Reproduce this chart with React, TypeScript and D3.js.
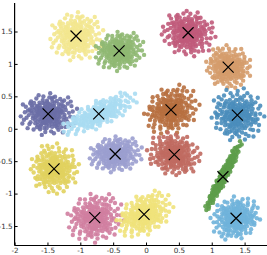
import React, { useRef, useEffect } from 'react';
import * as d3 from 'd3';

// cluster centres (the X marks)
const centerX = [-1.065, -0.41, -1.49, -0.72, 0.64, 1.25, 0.38, 1.39, -1.4, -0.47, -0.78, 0.43, 1.17, -0.03, 1.37];
const centerY = [1.43, 1.2, 0.23, 0.23, 1.48, 0.95, 0.29, 0.21, -0.62, -0.39, -1.37, -0.4, -0.74, -1.32, -1.38];
// spread along / across the main direction and the angle of that direction (deg)
const spreadA = [0.15, 0.14, 0.16, 0.23, 0.15, 0.12, 0.16, 0.15, 0.14, 0.15, 0.16, 0.15, 0.22, 0.17, 0.14];
const spreadB = [0.15, 0.12, 0.13, 0.08, 0.14, 0.14, 0.14, 0.16, 0.15, 0.11, 0.15, 0.13, 0.028, 0.12, 0.13];
const angles = [0, 10, 0, 25, -20, 80, 30, 100, 70, 5, 15, 160, 63, 30, 200];
const colors = ['#f3e78f', '#8fb872', '#6a6ea6', '#a9dcf2', '#c05a7a', '#d59c6c', '#b76f3f', '#4a8dbb',
  '#e1d15e', '#9b9ecf', '#d07ea0', '#c06a60', '#5d9d4a', '#f0e27a', '#6fb3da'];

// hand-typed unit scatter shared by the clusters
const offsets = [
  [0.12, -0.35], [-0.84, 0.41], [1.05, 0.22], [-0.31, -1.12], [0.56, 0.93], [-1.42, -0.27], [0.27, 0.08], [0.91, -0.66], [-0.63, -0.52], [-0.08, 1.37],
  [1.68, 0.45], [-0.45, 0.18], [0.38, -1.54], [-1.1, 0.95], [0.71, 0.37], [-0.19, -0.74], [1.23, -1.08], [-0.97, -1.31], [0.04, 0.61], [-1.76, 0.52],
  [0.49, -0.21], [-0.28, 0.88], [1.41, 0.96], [-0.66, -0.09], [0.18, -0.97], [-1.25, -0.71], [0.83, 1.52], [-0.51, 1.63], [2.1, -0.33], [-0.03, -0.18],
  [0.64, -1.21], [-1.58, 0.11], [0.31, 0.44], [-0.88, 0.67], [1.12, -0.41], [-0.36, -1.68], [0.95, 0.71], [-2.05, -0.46], [0.22, 1.09], [-0.72, -0.88],
  [1.56, -0.12], [-0.14, 0.33], [0.43, -0.63], [-1.03, 0.29], [0.67, 0.12], [-0.41, -0.36], [1.87, 1.21], [-1.34, 1.28], [0.09, -1.42], [-0.57, 0.52],
  [0.78, -0.85], [-0.23, -0.55], [1.31, 0.58], [-0.92, -0.18], [0.35, 1.78], [-1.67, -0.99], [0.58, -0.04], [-0.06, 0.97], [1.02, 1.14], [-0.79, 1.05],
  [2.34, 0.27], [-0.47, -1.02], [0.14, 0.21], [-1.19, -0.42], [0.86, -1.62], [-0.33, 1.21], [1.47, -0.73], [-0.61, 0.24], [0.26, -0.31], [-1.48, 0.78],
  [0.52, 0.66], [-0.16, -1.29], [1.18, 0.04], [-0.85, -0.63], [0.07, -0.6], [-2.21, 0.19], [0.99, -0.27], [-0.38, 0.71], [0.61, 1.31], [-1.06, -1.58],
  [1.74, -0.58], [-0.25, 0.05], [0.41, 0.98], [-0.69, -1.39], [0.17, -0.14], [-1.31, 0.47], [0.74, -0.49], [-0.11, 1.55], [1.35, 1.42], [-0.95, 0.14],
  [0.29, -2.08], [-1.84, -0.15], [0.88, 0.28], [-0.54, -0.77], [1.61, 0.81], [-0.02, -0.92], [0.47, 0.15], [-1.15, 0.62], [1.09, -0.91], [-0.31, 0.42],
  [2.6, -1.05], [-2.4, 1.1], [0.2, 2.45], [-0.6, -2.5], [1.9, 1.95], [-1.95, -1.7], [2.75, 0.6], [-0.9, 2.2], [1.4, -2.2], [-2.6, -0.3],
  [0.33, -0.44], [-0.44, -0.22], [0.15, 0.52], [-0.2, 0.27], [0.58, -0.34], [-0.73, 0.36], [0.02, 0.11], [0.44, 0.31], [-0.12, -0.41], [0.69, -0.16],
  [-0.58, -0.31], [0.24, -0.78], [-0.37, 0.59], [0.81, 0.54], [-0.91, 0.04], [0.11, -0.27], [-0.05, 0.76], [0.53, -0.92], [-1.0, -0.94], [1.28, 0.31],
  [1.52, 1.58], [-1.62, 1.47], [2.05, -1.3], [-1.38, -1.86], [0.66, 2.02], [-0.27, -2.15], [2.22, 0.92], [-2.12, 0.84], [0.98, -1.9], [-1.12, 1.82],
  [1.83, -0.95], [-1.78, -1.22], [0.12, 1.95], [-0.76, -1.83], [2.45, -0.44], [-2.3, -0.71], [1.15, 1.76], [-0.45, 2.05], [0.55, -2.3], [-1.55, 1.0],
  [0.95, -1.32], [-1.22, -1.12], [1.38, 0.18], [-0.48, 1.28], [0.36, -1.18], [-1.45, -0.52], [1.22, 1.02], [-0.82, 1.32], [0.72, -1.45], [-1.6, 0.35],
  [0.05, 1.2], [-0.15, -1.05], [1.52, -0.38], [-1.28, 0.05], [0.42, 1.45], [-0.62, -1.22], [1.08, 0.55], [-0.98, 0.85], [0.85, -1.05], [-1.08, -0.22],
  [0.25, 0.75], [-0.32, -0.92], [0.92, 0.02], [-0.7, 0.7], [0.62, -0.62], [-0.55, 0.02], [0.18, -0.48], [-0.1, 0.48], [0.38, -0.08], [-0.28, -0.12],
  [1.98, 0.12], [-1.92, 0.38], [0.45, 1.92], [-0.15, -1.72], [1.65, -1.55], [-1.7, 1.25], [2.15, 1.45], [-2.45, -1.15], [1.25, -1.58], [-0.8, -1.65],
];

const xTicks = [-2, -1.5, -1, -0.5, 0, 0.5, 1, 1.5];
const yTicks = [-1.5, -1, -0.5, 0, 0.5, 1, 1.5];

const width = 267;
const height = 255;

const App = () => {
  const inputEl = useRef<HTMLDivElement>(null);

  useEffect(() => {
    d3.select(inputEl.current).select('svg').remove();

    var x = d3.scaleLinear().domain([-2, 1.5]).range([14.6, 244.6]);
    var y = d3.scaleLinear().domain([-1.5, 1.5]).range([226, 31.5]);

    var svg = d3.select(inputEl.current).append('svg')
      .attr('width', width).attr('height', height)
      .style('display', 'block');

    var pts = svg.append('g');
    centerX.forEach((cx, i) => {
      var a = angles[i] * Math.PI / 180;
      var data = offsets.map(([u, v]) => {
        var du = u * spreadA[i], dv = v * spreadB[i];
        return [cx + du * Math.cos(a) - dv * Math.sin(a), centerY[i] + du * Math.sin(a) + dv * Math.cos(a)];
      });
      pts.append('g').selectAll('circle')
        .data(data)
        .enter().append('circle')
        .attr('cx', d => x(d[0]))
        .attr('cy', d => y(d[1]))
        .attr('r', 2.2)
        .attr('fill', colors[i])
        .attr('fill-opacity', 0.9);
    });

    var crosses = svg.append('g');
    centerX.forEach((cx, i) => {
      var px = x(cx), py = y(centerY[i]), s = 5.5;
      crosses.append('path')
        .attr('d', `M${px - s},${py - s}L${px + s},${py + s}M${px - s},${py + s}L${px + s},${py - s}`)
        .attr('stroke', '#000')
        .attr('stroke-width', 1.2)
        .attr('fill', 'none');
    });

    var xAxis = d3.axisBottom(x).tickValues(xTicks).tickSize(-3).tickSizeOuter(0).tickPadding(2).tickFormat(d => String(d));
    var yAxis = d3.axisLeft(y).tickValues(yTicks).tickSize(-3).tickSizeOuter(0).tickPadding(2).tickFormat(d => String(d));

    var gx = svg.append('g').attr('transform', 'translate(0,245.5)').call(xAxis);
    gx.select('.domain').attr('d', 'M14.6,0H267');
    var gy = svg.append('g').attr('transform', 'translate(14.6,0)').call(yAxis);
    gy.select('.domain').attr('d', 'M0,3V245.5');

    svg.selectAll('.tick text')
      .attr('font-family', 'DejaVu Sans, sans-serif')
      .attr('font-size', 7.2)
      .attr('fill', '#333');
    svg.selectAll('.tick line').attr('stroke', '#000');
    svg.selectAll('.domain').attr('stroke', '#000').attr('stroke-width', 1.2);
  }, []);

  return <div ref={inputEl} style={{ position: 'absolute', left: 0, top: 0 }}></div>;
};

export default App;
